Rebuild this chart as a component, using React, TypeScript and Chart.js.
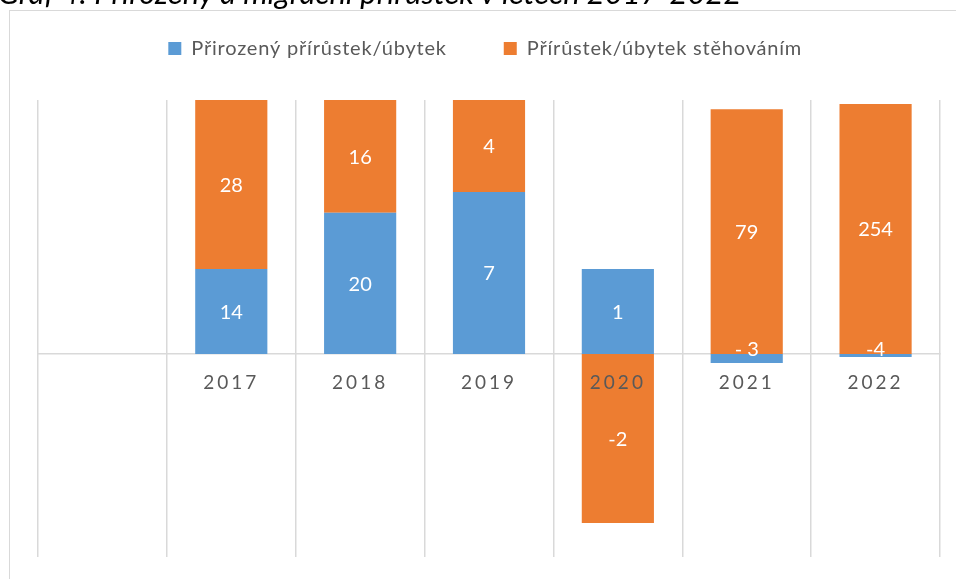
import React, { useEffect, useRef } from "react";
import { Chart, registerables } from "chart.js";

Chart.register(...registerables);

const chartTitle = "Graf 4: Přirozený a migrační přírůstek v letech 2017-2022";
const categories = ["", "2017", "2018", "2019", "2020", "2021", "2022"];
const seriesNames = ["Přirozený přírůstek/úbytek", "Přírůstek/úbytek stěhováním"];
// bar heights as drawn in the picture (axis units)
const naturalHeights = [null, 1.67, 2.78, 3.19, 1.67, -0.18, -0.06];
const migrationHeights = [null, 3.33, 2.22, 1.81, -3.33, 4.82, 4.92];
// data labels as printed on the bars
const naturalLabels = ["", "14", "20", "7", "1", "- 3", "-4"];
const migrationLabels = ["", "28", "16", "4", "-2", "79", "254"];
const yMin = -4;
const yMax = 5;

const BLUE = "#5B9BD5";
const ORANGE = "#ED7D31";
const GRID = "#D9D9D9";
const TEXT = "#595959";
const FONT = "Lato";

const valueLabelPlugin = {
  id: "valueLabels",
  afterDatasetsDraw(chart: any) {
    const { ctx, chartArea } = chart;
    const texts = [naturalLabels, migrationLabels];
    ctx.save();
    ctx.font = `20px ${FONT}`;
    ctx.fillStyle = "#FFFFFF";
    ctx.textAlign = "center";
    ctx.textBaseline = "middle";
    chart.data.datasets.forEach((_ds: any, di: number) => {
      const meta = chart.getDatasetMeta(di);
      meta.data.forEach((el: any, i: number) => {
        const t = texts[di][i];
        if (!t) return;
        const { x, y, base } = el.getProps(["x", "y", "base"], true);
        if (!isFinite(y) || !isFinite(base)) return;
        const top = Math.max(Math.min(y, base), chartArea.top);
        const bottom = Math.min(Math.max(y, base), chartArea.bottom);
        const cy = bottom - top < 14 ? top - 4 : (top + bottom) / 2 + 1;
        ctx.fillText(t, x, cy);
      });
    });
    ctx.restore();
  },
};

const spacingPlugin = {
  id: "letterSpacingPatch",
  beforeDraw(chart: any) {
    const s: any = chart.scales.x;
    if (s && !s.__patched) {
      const orig = s.drawLabels.bind(s);
      s.drawLabels = (area: any) => {
        const c: any = chart.ctx;
        const prev = c.letterSpacing;
        c.letterSpacing = "3px";
        orig(area);
        c.letterSpacing = prev || "0px";
      };
      s.__patched = true;
    }
    const lg: any = chart.legend;
    if (lg && !lg.__patched) {
      const origDraw = lg.draw.bind(lg);
      lg.draw = (...args: any[]) => {
        const c: any = chart.ctx;
        c.save();
        c.translate(-25, 0);
        c.letterSpacing = "0.8px";
        origDraw(...args);
        c.restore();
        c.letterSpacing = "0px";
      };
      lg.__patched = true;
    }
  },
};

function BarChart() {
  const ref = useRef<HTMLCanvasElement | null>(null);
  useEffect(() => {
    if (!ref.current) return;
    const chart = new Chart(ref.current, {
      type: "bar",
      data: {
        labels: categories,
        datasets: [
          {
            label: seriesNames[0],
            data: naturalHeights as any,
            backgroundColor: BLUE,
            borderWidth: 0,
          },
          {
            label: seriesNames[1],
            data: migrationHeights as any,
            backgroundColor: ORANGE,
            borderWidth: 0,
          },
        ],
      },
      options: {
        responsive: false,
        animation: false,
        events: [],
        layout: { padding: { top: -18.5, left: 38, right: 16, bottom: 22 } },
        datasets: {
          bar: { categoryPercentage: 1, barPercentage: 0.56 },
        },
        plugins: {
          tooltip: { enabled: false },
          title: { display: false },
          legend: {
            display: true,
            position: "top",
            labels: {
              boxWidth: 13,
              boxHeight: 13,
              padding: 57,
              color: TEXT,
              font: { family: FONT, size: 20 },
            },
          },
        },
        scales: {
          x: {
            stacked: true,
            position: { y: 0 } as any,
            grid: { display: true, color: GRID, lineWidth: 1.5, offset: true, drawTicks: false },
            border: { display: true, color: GRID, width: 1.5 },
            ticks: { color: TEXT, font: { family: FONT, size: 19 }, padding: 18, maxRotation: 0, z: 1 },
          },
          x2: {
            type: "category",
            position: "top",
            display: true,
            grid: { display: false, drawTicks: false },
            border: { display: false },
            ticks: { display: false },
            afterFit: (s: any) => {
              s.height = 31.5;
            },
          } as any,
          y: {
            stacked: true,
            display: false,
            min: yMin,
            max: yMax,
          },
        },
      },
      plugins: [valueLabelPlugin, spacingPlugin],
    });
    return () => chart.destroy();
  }, []);
  return <canvas ref={ref} width={956} height={579} style={{ width: 956, height: 579, display: "block" }} />;
}

export default function App() {
  return (
    <div
      style={{
        position: "fixed",
        left: 0,
        top: 0,
        width: 956,
        height: 579,
        overflow: "hidden",
        background: "#FFFFFF",
      }}
    >
      <div
        style={{
          position: "absolute",
          left: 9,
          top: 10,
          width: 1100,
          height: 800,
          border: `1px solid ${GRID}`,
        }}
      />
      <div style={{ position: "absolute", left: 0, top: 0 }}>
        <BarChart />
      </div>
      <div
        style={{
          position: "absolute",
          left: -2,
          top: -23.5,
          fontFamily: FONT,
          fontStyle: "italic",
          fontSize: 31,
          lineHeight: 1,
          whiteSpace: "nowrap",
          color: "#000",
        }}
      >
        {chartTitle}
      </div>
    </div>
  );
}
